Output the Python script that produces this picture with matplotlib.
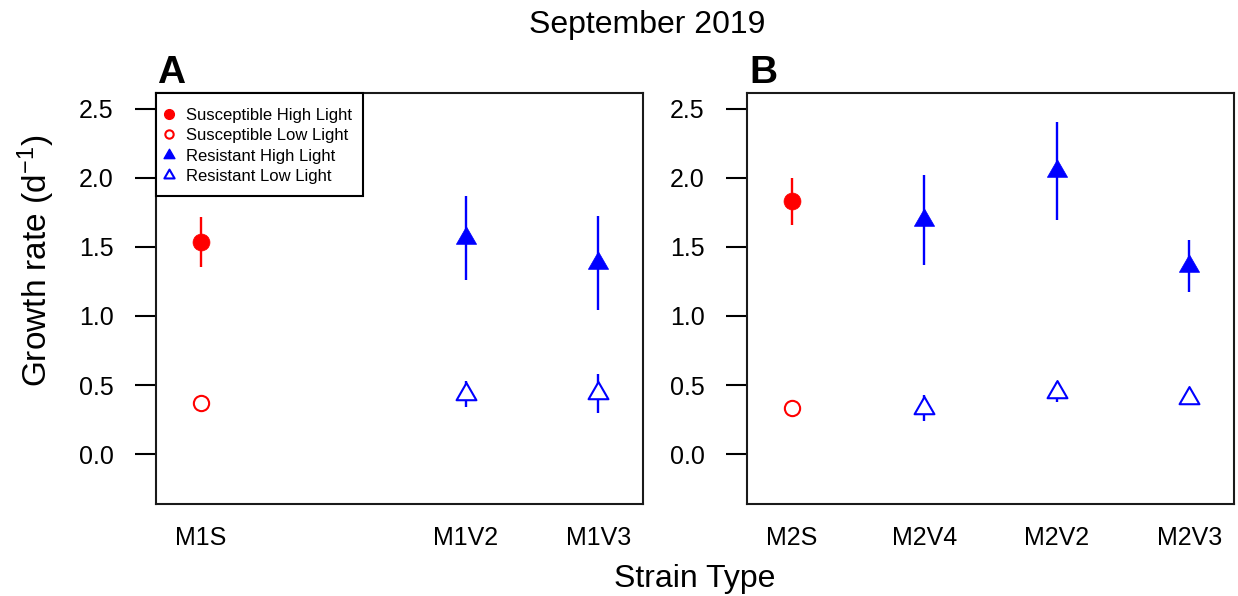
import matplotlib
matplotlib.use("Agg")
import matplotlib.pyplot as plt
from matplotlib.lines import Line2D
from matplotlib.path import Path
from matplotlib.patches import Rectangle

plt.rcParams['font.family'] = ['Liberation Sans', 'DejaVu Sans']
plt.rcParams['mathtext.fontset'] = 'custom'
plt.rcParams['mathtext.rm'] = 'Liberation Sans'
plt.rcParams['mathtext.it'] = 'Liberation Sans'

# ---------------- data ----------------
title = "September 2019"
xlabel = "Strain Type"
ylabel = "Growth rate (d$^{-1}$)"

labels_A = ["M1S", "M1V2", "M1V3"]
pos_A = [1, 3, 4]
kind_A = ["S", "R", "R"]
high_A = [1.535, 1.565, 1.382]
high_err_A = [0.178, 0.304, 0.338]
low_A = [0.367, 0.435, 0.440]
low_err_A = [0.02, 0.092, 0.14]

labels_B = ["M2S", "M2V4", "M2V2", "M2V3"]
pos_B = [1, 2, 3, 4]
kind_B = ["S", "R", "R", "R"]
high_B = [1.830, 1.691, 2.047, 1.359]
high_err_B = [0.170, 0.326, 0.356, 0.187]
low_B = [0.333, 0.336, 0.451, 0.406]
low_err_B = [0.02, 0.094, 0.072, 0.03]

legend_labels = ["Susceptible High Light", "Susceptible Low Light",
                 "Resistant High Light", "Resistant Low Light"]
yticks = [0.0, 0.5, 1.0, 1.5, 2.0, 2.5]

RED = "#FF0000"
BLUE = "#0000FF"

# R-style triangle (centroid-centred)
TRI = Path([(0, 1.5551), (1.3468, -0.7776), (-1.3468, -0.7776), (0, 1.5551)],
           [Path.MOVETO, Path.LINETO, Path.LINETO, Path.CLOSEPOLY])

W, H = 1238, 596
fig = plt.figure(figsize=(W / 100, H / 100), dpi=100)

AX_L, AX_T, AX_R, AX_B = 156, 93.3, 643, 504

def px_axes(l, t, r, b):
    return fig.add_axes([l / W, 1 - b / H, (r - l) / W, (b - t) / H])

axA = px_axes(AX_L, AX_T, AX_R, AX_B)
axB = px_axes(747, AX_T, 1234, AX_B)


def draw(ax, pos, kinds, hi, hie, lo, loe, labels):
    for x, k, h, he, l, le in zip(pos, kinds, hi, hie, lo, loe):
        col = RED if k == "S" else BLUE
        ax.plot([x, x], [h - he, h + he], color=col, lw=1.7, zorder=2,
                solid_capstyle='butt')
        ax.plot([x, x], [l - le, l + le], color=col, lw=1.7, zorder=2,
                solid_capstyle='butt')
        if k == "S":
            ax.plot([x], [h], marker='o', ms=12.2, color=col, mec=col,
                    mew=0.5, zorder=3, ls='none')
            ax.plot([x], [l], marker='o', ms=11, mfc='white', mec=col,
                    mew=1.5, zorder=3, ls='none')
        else:
            ax.plot([x], [h], marker=TRI, ms=16.8, color=col, mec=col,
                    mew=0.5, zorder=3, ls='none')
            ax.plot([x], [l], marker=TRI, ms=16.5, mfc='white', mec=col,
                    mew=1.5, zorder=3, ls='none')
    ax.set_xlim(0.664, 4.336)
    ax.set_ylim(-0.36, 2.61)
    ax.set_yticks(yticks)
    ax.set_yticklabels([f"{v:.1f}" for v in yticks])
    ax.set_xticks(pos)
    ax.set_xticklabels(labels)
    ax.tick_params(axis='y', length=15, width=1.5, pad=15.5, labelsize=18,
                   colors='black')
    ax.tick_params(axis='x', length=0, pad=16, labelsize=18)
    for s in ax.spines.values():
        s.set_linewidth(1.5)
        s.set_color('#1a1a1a')


draw(axA, pos_A, kind_A, high_A, high_err_A, low_A, low_err_A, labels_A)
draw(axB, pos_B, kind_B, high_B, high_err_B, low_B, low_err_B, labels_B)

handles = [
    Line2D([], [], ls='none', marker='o', ms=7, color=RED, mec=RED),
    Line2D([], [], ls='none', marker='o', ms=6, mfc='white', mec=RED, mew=1.5),
    Line2D([], [], ls='none', marker=TRI, ms=9, color=BLUE, mec=BLUE),
    Line2D([], [], ls='none', marker=TRI, ms=8.5, mfc='white', mec=BLUE, mew=1.5),
]
leg = axA.legend(handles, legend_labels, loc='upper left',
                 bbox_to_anchor=(-0.004, 1 - 4 / (AX_B - AX_T)),
                 borderaxespad=0, fontsize=12, frameon=False,
                 handlelength=0.6, handletextpad=0.7, labelspacing=0.33,
                 borderpad=0.62)
leg.set_zorder(5)
# legend frame (R-style box with tight right padding)
box_w = (363 - AX_L) / (AX_R - AX_L)
box_h = (196 - AX_T) / (AX_B - AX_T)
axA.add_patch(Rectangle((0, 1 - box_h), box_w, box_h, transform=axA.transAxes,
                        facecolor='white', edgecolor='black', lw=1.5,
                        zorder=4, clip_on=False))

fig.text(647 / W, 1 - 33 / H, title, ha='center', va='baseline', fontsize=23)
fig.text(695 / W, 1 - 587 / H, xlabel, ha='center', va='baseline', fontsize=23)
fig.text(36 / W, 1 - 261 / H, ylabel, ha='center', va='center', rotation=90,
         fontsize=24)
fig.text(157 / W, 1 - 83 / H, "A", ha='left', va='baseline', fontsize=28,
         fontweight='bold')
fig.text(749 / W, 1 - 83 / H, "B", ha='left', va='baseline', fontsize=28,
         fontweight='bold')

fig.savefig("out.png", dpi=100)
